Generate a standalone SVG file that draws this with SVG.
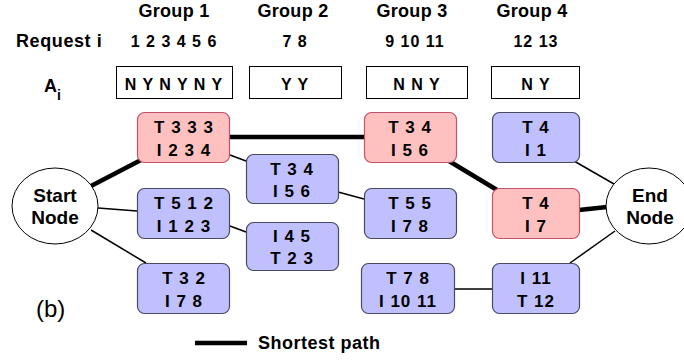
<svg xmlns="http://www.w3.org/2000/svg" width="684" height="362" viewBox="0 0 684 362">
  <style>
    text { font-family: "Liberation Sans", Arial, Helvetica, sans-serif; font-weight: bold; fill: #000; }
    .hdr { font-size: 18px; text-anchor: middle; letter-spacing: 0.3px; }
    .lbl { font-size: 16px; text-anchor: middle; letter-spacing: 1px; }
    .node { font-size: 17px; text-anchor: middle; letter-spacing: 1px; }
    .tn { font-size: 19px; text-anchor: middle; }
    .ans { fill: #fff; stroke: #000; stroke-width: 1; }
    .red rect { fill: #ffc0c0; stroke: #c4506a; stroke-width: 1.2; }
    .blue rect { fill: #c0c0ff; stroke: #4a4a60; stroke-width: 1.2; }
    .term ellipse { fill: #fff; stroke: #000; stroke-width: 1; }
    .thin { stroke: #000; stroke-width: 1.5; fill: none; }
    .thick { stroke: #000; stroke-width: 4.5; fill: none; }
  </style>

  <!-- column headers -->
  <g id="headers">
    <text class="hdr" x="174" y="17">Group 1</text>
    <text class="hdr" x="293" y="17">Group 2</text>
    <text class="hdr" x="412" y="17">Group 3</text>
    <text class="hdr" x="532" y="17">Group 4</text>
    <text style="font-size:18px;letter-spacing:0.6px" x="16" y="47">Request i</text>
    <text class="lbl" x="174" y="47">1 2 3 4 5 6</text>
    <text class="lbl" x="295" y="47">7 8</text>
    <text class="lbl" x="415" y="47">9 10 11</text>
    <text class="lbl" x="536" y="47">12 13</text>
    <text style="font-size:18px" x="44" y="92">A<tspan font-size="14" dy="8">i</tspan></text>
  </g>

  <!-- answer boxes -->
  <g id="answers">
    <rect class="ans" x="116.5" y="66.5" width="116" height="32"/>
    <rect class="ans" x="249.5" y="66.5" width="92" height="32"/>
    <rect class="ans" x="366.5" y="66.5" width="101" height="32"/>
    <rect class="ans" x="491.5" y="66.5" width="88" height="32"/>
    <text class="lbl" x="174" y="90">N Y N Y N Y</text>
    <text class="lbl" x="295" y="90">Y Y</text>
    <text class="lbl" x="417" y="90">N N Y</text>
    <text class="lbl" x="536" y="90">N Y</text>
  </g>

  <!-- connectors -->
  <g id="connectors">
    <line class="thick" x1="91" y1="186" x2="141" y2="160"/>
    <line class="thick" x1="230" y1="137" x2="364" y2="137"/>
    <line class="thick" x1="449" y1="161" x2="497" y2="190"/>
    <line class="thick" x1="579" y1="210" x2="607" y2="207"/>
    <line class="thin" x1="230" y1="155" x2="246" y2="161"/>
    <line class="thin" x1="98" y1="208" x2="137" y2="211"/>
    <line class="thin" x1="230" y1="226" x2="246" y2="232"/>
    <line class="thin" x1="91" y1="230" x2="146" y2="263"/>
    <line class="thin" x1="338" y1="192" x2="364" y2="199"/>
    <line class="thin" x1="574" y1="161" x2="614" y2="184"/>
    <line class="thin" x1="570" y1="263" x2="615" y2="231"/>
    <line class="thin" x1="455" y1="289" x2="492" y2="289"/>
  </g>

  <!-- terminal nodes -->
  <g id="start" class="term">
    <ellipse cx="55" cy="206" rx="43" ry="38"/>
    <text class="tn" x="55" y="202">Start</text>
    <text class="tn" x="55" y="224">Node</text>
  </g>
  <g id="end" class="term">
    <ellipse cx="649" cy="206" rx="43" ry="38"/>
    <text class="tn" x="650" y="202">End</text>
    <text class="tn" x="650" y="224">Node</text>
  </g>

  <!-- group 1 -->
  <g id="g1a" class="red">
    <rect x="137.5" y="112.5" width="92" height="50" rx="7"/>
    <text class="node" x="184" y="133">T 3 3 3</text>
    <text class="node" x="184" y="156">I 2 3 4</text>
  </g>
  <g id="g1b" class="blue">
    <rect x="137.5" y="188.5" width="92" height="50" rx="7"/>
    <text class="node" x="184" y="209">T 5 1 2</text>
    <text class="node" x="184" y="232">I 1 2 3</text>
  </g>
  <g id="g1c" class="blue">
    <rect x="137.5" y="263.5" width="92" height="50" rx="7"/>
    <text class="node" x="184" y="284">T 3 2</text>
    <text class="node" x="184" y="307">I 7 8</text>
  </g>

  <!-- group 2 -->
  <g id="g2a" class="blue">
    <rect x="246.5" y="154.5" width="92" height="49" rx="7"/>
    <text class="node" x="292" y="175">T 3 4</text>
    <text class="node" x="292" y="197">I 5 6</text>
  </g>
  <g id="g2b" class="blue">
    <rect x="246.5" y="222.5" width="92" height="48" rx="7"/>
    <text class="node" x="292" y="242">I 4 5</text>
    <text class="node" x="292" y="264">T 2 3</text>
  </g>

  <!-- group 3 -->
  <g id="g3a" class="red">
    <rect x="364.5" y="112.5" width="92" height="50" rx="7"/>
    <text class="node" x="410" y="133">T 3 4</text>
    <text class="node" x="410" y="156">I 5 6</text>
  </g>
  <g id="g3b" class="blue">
    <rect x="364.5" y="188.5" width="92" height="50" rx="7"/>
    <text class="node" x="410" y="209">T 5 5</text>
    <text class="node" x="410" y="232">I 7 8</text>
  </g>
  <g id="g3c" class="blue">
    <rect x="361.5" y="263.5" width="93" height="50" rx="7"/>
    <text class="node" x="408" y="284">T 7 8</text>
    <text class="node" x="408" y="307">I 10 11</text>
  </g>

  <!-- group 4 -->
  <g id="g4a" class="blue">
    <rect x="492.5" y="112.5" width="87" height="50" rx="7"/>
    <text class="node" x="536" y="133">T 4</text>
    <text class="node" x="536" y="156">I 1</text>
  </g>
  <g id="g4b" class="red">
    <rect x="492.5" y="188.5" width="87" height="50" rx="7"/>
    <text class="node" x="536" y="209">T 4</text>
    <text class="node" x="536" y="232">I 7</text>
  </g>
  <g id="g4c" class="blue">
    <rect x="492.5" y="263.5" width="87" height="50" rx="7"/>
    <text class="node" x="536" y="284">I 11</text>
    <text class="node" x="536" y="307">T 12</text>
  </g>

  <!-- caption and legend -->
  <g id="legend">
    <text x="36" y="317" style="font-size:24px;font-weight:normal">(b)</text>
    <line class="thick" x1="195" y1="343" x2="247" y2="343"/>
    <text x="258" y="349" style="font-size:18px;letter-spacing:0.5px">Shortest path</text>
  </g>
</svg>
